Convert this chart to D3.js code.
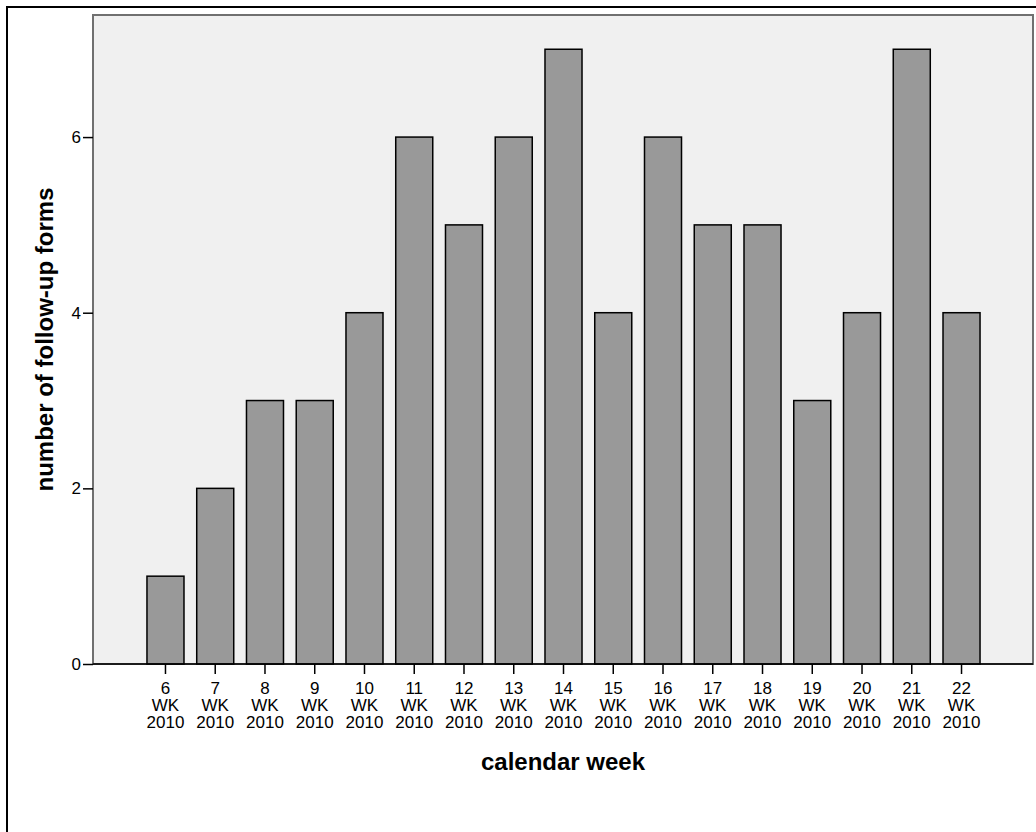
<!DOCTYPE html>
<html>
<head>
    <meta charset="utf-8">
    <script type="text/javascript" src="https://cdn.jsdelivr.net/npm/d3@7"></script>
    <style>
        body {
            margin: 0;
            background: #fff;
            font-family: "Liberation Sans", Arial, Helvetica, sans-serif;
        }
        .tick text {
            font-size: 17px;
            fill: #000;
        }
        .axis-title {
            font-size: 24px;
            font-weight: bold;
        }
        .bar {
            fill: #999999;
            stroke: #000;
            stroke-width: 1.5px;
        }
    </style>
</head>
<body>
<script>
    // weeks and counts
    var weeks = [6, 7, 8, 9, 10, 11, 12, 13, 14, 15, 16, 17, 18, 19, 20, 21, 22];
    var counts = [1, 2, 3, 3, 4, 6, 5, 6, 7, 4, 6, 5, 5, 3, 4, 7, 4];
    var yTicks = [0, 2, 4, 6];
    var yearLabel = "2010";

    var width = 1036, height = 832;
    var plot = {left: 93, right: 1033, top: 15, bottom: 664};

    var svg = d3.select("body").append("svg")
        .attr("width", width)
        .attr("height", height);

    // outer frame (right and bottom edges fall outside the picture)
    svg.append("rect")
        .attr("x", 7).attr("y", 7)
        .attr("width", 1100).attr("height", 900)
        .attr("fill", "none")
        .attr("stroke", "#000")
        .attr("stroke-width", 2);

    var x = d3.scaleBand()
        .domain(weeks)
        .range([140.6, 986.4])
        .paddingInner(0.256)
        .paddingOuter(0.128);

    var y = d3.scaleLinear()
        .domain([0, 7.39])
        .range([plot.bottom, plot.top]);

    // plot background
    svg.append("rect")
        .attr("x", plot.left).attr("y", plot.top)
        .attr("width", plot.right - plot.left)
        .attr("height", plot.bottom - plot.top)
        .attr("fill", "#f0f0f0")
        .attr("stroke", "#707070")
        .attr("stroke-width", 2);

    svg.selectAll(".bar")
        .data(counts)
        .enter().append("rect")
        .attr("class", "bar")
        .attr("x", function (d, i) { return x(weeks[i]); })
        .attr("width", x.bandwidth())
        .attr("y", function (d) { return y(d); })
        .attr("height", function (d) { return y(0) - y(d); });

    // baseline
    svg.append("line")
        .attr("x1", plot.left).attr("x2", plot.right)
        .attr("y1", plot.bottom).attr("y2", plot.bottom)
        .attr("stroke", "#000")
        .attr("stroke-width", 1.5);

    // y axis
    var yAxis = svg.append("g")
        .attr("transform", "translate(" + plot.left + ",0)")
        .call(d3.axisLeft(y).tickValues(yTicks).tickSize(10).tickPadding(2).tickFormat(d3.format("d")));
    yAxis.select(".domain").remove();
    yAxis.selectAll(".tick line").attr("stroke", "#000").attr("stroke-width", 1.5);
    yAxis.selectAll(".tick text").style("font-family", "'Liberation Sans', Arial, sans-serif");

    // x axis
    var xAxis = svg.append("g")
        .attr("transform", "translate(0," + plot.bottom + ")")
        .call(d3.axisBottom(x).tickSize(10).tickFormat(""));
    xAxis.select(".domain").remove();
    xAxis.selectAll(".tick line").attr("stroke", "#000").attr("stroke-width", 1.5);

    var lbl = xAxis.selectAll(".tick text")
        .attr("y", 0)
        .attr("dy", null)
        .style("font-family", "'Liberation Sans', Arial, sans-serif");
    lbl.each(function (d) {
        var t = d3.select(this);
        var lines = [String(d), "WK", yearLabel];
        lines.forEach(function (s, i) {
            t.append("tspan")
                .attr("x", 0)
                .attr("y", 29.5 + i * 17.3)
                .text(s);
        });
    });

    // axis titles
    svg.append("text")
        .attr("class", "axis-title")
        .attr("x", (plot.left + plot.right) / 2)
        .attr("y", 770)
        .attr("text-anchor", "middle")
        .text("calendar week");

    svg.append("text")
        .attr("class", "axis-title")
        .attr("transform", "translate(53," + (plot.top + plot.bottom) / 2 + ") rotate(-90)")
        .attr("text-anchor", "middle")
        .text("number of follow-up forms");
</script>
</body>
</html>
